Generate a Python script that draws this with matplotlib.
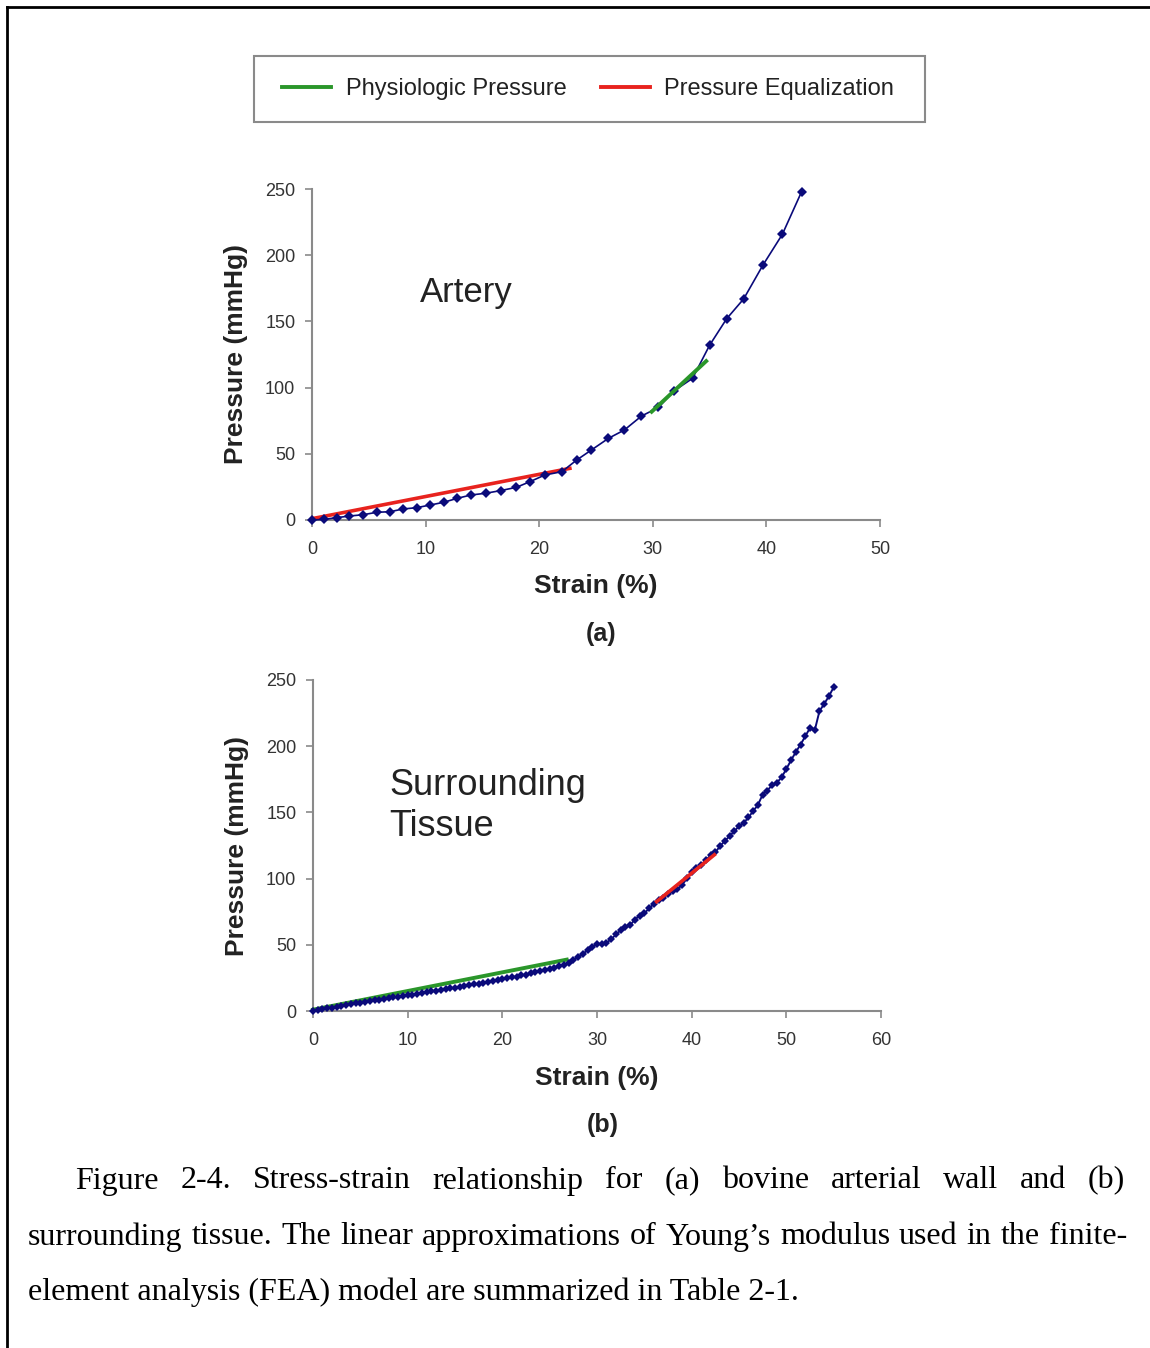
import matplotlib
matplotlib.use("Agg")
import matplotlib.pyplot as plt
from matplotlib.lines import Line2D
from matplotlib.patches import Rectangle

## data
artery_strain = [0, 1.1, 2.2, 3.3, 4.5, 5.7, 6.9, 8.0, 9.2, 10.4, 11.6, 12.8, 14.0, 15.3,
                 16.6, 18.0, 19.2, 20.5, 22.0, 23.3, 24.6, 26.1, 27.5, 29.0, 30.5, 31.9,
                 33.5, 35.0, 36.5, 38.0, 39.7, 41.4, 43.1]
artery_pressure = [0, 0.5, 1.8, 3.0, 4.0, 5.8, 6.3, 8.3, 9.3, 11.3, 13.4, 16.4, 18.9, 20.2,
                   22.2, 24.7, 29.0, 34.0, 36.5, 45.3, 52.9, 61.7, 68.0, 78.5, 85.0, 97.7,
                   107.0, 132.0, 152.0, 167.0, 192.6, 215.7, 248.0]

tissue_strain = [0.0, 0.5, 1.0, 1.5, 2.0, 2.5, 3.0, 3.5, 4.0, 4.5, 5.0, 5.5, 6.0, 6.5, 7.0,
                 7.5, 8.0, 8.5, 9.0, 9.5, 10.0, 10.5, 11.0, 11.5, 12.0, 12.5, 13.0, 13.5,
                 14.0, 14.5, 15.0, 15.5, 16.0, 16.5, 17.0, 17.5, 18.0, 18.5, 19.0, 19.5,
                 20.0, 20.5, 21.0, 21.5, 22.0, 22.5, 23.0, 23.5, 24.0, 24.5, 25.0, 25.5,
                 26.0, 26.5, 27.0, 27.5, 28.0, 28.5, 29.0, 29.5, 30.0, 30.5, 31.0, 31.5,
                 32.0, 32.5, 33.0, 33.5, 34.0, 34.5, 35.0, 35.5, 36.0, 36.5, 37.0, 37.5,
                 38.0, 38.5, 39.0, 39.5, 40.0, 40.5, 41.0, 41.5, 42.0, 42.5, 43.0, 43.5,
                 44.0, 44.5, 45.0, 45.5, 46.0, 46.5, 47.0, 47.5, 48.0, 48.5, 49.0, 49.5,
                 50.0, 50.5, 51.0, 51.5, 52.0, 52.5, 53.0, 53.5, 54.0, 54.5, 55.0]
tissue_pressure = [0, 0.8, 1.5, 2.0, 2.6, 3.0, 3.9, 4.6, 5.2, 5.8, 6.3, 6.9, 7.6, 8.0, 8.6,
                   9.3, 9.8, 10.3, 10.9, 11.6, 12.0, 12.4, 13.1, 13.8, 14.2, 14.9, 15.3, 16.0,
                   16.5, 17.0, 17.6, 18.3, 18.9, 19.4, 20.1, 20.5, 21.3, 22.0, 22.6, 23.4,
                   24.0, 24.6, 25.5, 26.0, 26.9, 27.5, 28.4, 29.1, 30.0, 30.8, 31.8, 32.6,
                   33.7, 34.9, 36.2, 38.3, 41.0, 43.2, 45.8, 48.6, 50.5, 50.9, 51.6, 54.2,
                   57.8, 61.0, 63.2, 64.9, 69.0, 72.1, 73.8, 77.5, 80.9, 83.6, 85.4, 88.6,
                   90.5, 92.1, 95.3, 100.2, 104.8, 107.9, 110.6, 113.9, 117.5, 119.8, 124.6,
                   128.4, 132.0, 135.8, 139.6, 142.0, 146.3, 151.0, 155.7, 163.5, 166.5,
                   170.8, 172.4, 176.5, 182.8, 189.4, 195.6, 201.2, 207.5, 213.8, 212.0,
                   226.5, 232.0, 237.8, 244.5]

# linear approximations (end points)
artery_phys_x, artery_phys_y = [29.9, 34.7], [81.8, 120.0]
artery_equal_x, artery_equal_y = [0, 22.7], [1.0, 39.0]
tissue_phys_x, tissue_phys_y = [0, 26.8], [1.0, 38.8]
tissue_equal_x, tissue_equal_y = [36.3, 42.4], [82.6, 118.0]

caption = ["Figure 2-4. Stress-strain relationship for (a) bovine arterial wall and (b)",
           "surrounding tissue. The linear approximations of Young\u2019s modulus used in the finite-",
           "element analysis (FEA) model are summarized in Table 2-1."]

GREEN = "#2a962a"
RED = "#e8231e"
NAVY = "#0a0a7a"
GRAY = "#8a8a8a"

plt.rcParams['font.family'] = ['Liberation Sans', 'DejaVu Sans']

W, H = 1150, 1348
fig = plt.figure(figsize=(W/100, H/100), dpi=100)

def px_axes(x0, x1, y0, y1):
    return fig.add_axes([x0/W, 1-y1/H, (x1-x0)/W, (y1-y0)/H])

def style(ax, xmax, xstep):
    ax.set_xlim(0, xmax)
    ax.set_ylim(0, 250)
    ax.set_xticks(range(0, xmax+1, xstep))
    ax.set_yticks(range(0, 251, 50))
    for s in ["top", "right"]:
        ax.spines[s].set_visible(False)
    for s in ["left", "bottom"]:
        ax.spines[s].set_color(GRAY)
        ax.spines[s].set_linewidth(1.5)
    ax.tick_params(direction="out", length=5, width=1.2, color=GRAY,
                   labelsize=13, labelcolor="#333333")
    ax.tick_params(axis="x", pad=10)
    ax.tick_params(axis="y", pad=7)
    ax.set_xlabel("Strain (%)", fontsize=19, fontweight="bold", color="#222222", labelpad=12)
    ax.set_ylabel("Pressure (mmHg)", fontsize=19, fontweight="bold", color="#222222", labelpad=12)

## (a) artery
ax1 = px_axes(312, 880, 189, 520)
style(ax1, 50, 10)
ax1.plot(artery_equal_x, artery_equal_y, color=RED, lw=2.6, zorder=3, clip_on=False)
ax1.plot(artery_strain, artery_pressure, color=NAVY, lw=1.2, marker="D", ms=5,
         markeredgewidth=0, zorder=4, clip_on=False)
ax1.plot(artery_phys_x, artery_phys_y, color=GREEN, lw=2.8, zorder=5, clip_on=False)
ax1.text(0.19, 0.686, "Artery", transform=ax1.transAxes, fontsize=25, color="#222222",
         va="center")

## (b) surrounding tissue
ax2 = px_axes(313, 881, 680, 1011)
style(ax2, 60, 10)
ax2.plot(tissue_phys_x, tissue_phys_y, color=GREEN, lw=2.8, zorder=3, clip_on=False)
ax2.plot(tissue_strain, tissue_pressure, color=NAVY, lw=1.4, marker="D", ms=4.2,
         markeredgewidth=0, zorder=4, clip_on=False)
ax2.plot(tissue_equal_x, tissue_equal_y, color=RED, lw=2.6, zorder=5, clip_on=False)
ax2.text(0.135, 0.619, "Surrounding\nTissue", transform=ax2.transAxes, fontsize=26,
         color="#222222", linespacing=1.2, va="center")

fig.text(601/W, 1-634/H, "(a)", ha="center", va="center", fontsize=18, fontweight="bold",
         color="#222222")
fig.text(603/W, 1-1125/H, "(b)", ha="center", va="center", fontsize=18, fontweight="bold",
         color="#222222")

## legend (frame drawn separately)
handles = [Line2D([], [], color=GREEN, lw=2.8), Line2D([], [], color=RED, lw=2.8)]
leg = fig.legend(handles, ["Physiologic Pressure", "Pressure Equalization"], ncol=2,
                 loc="center", bbox_to_anchor=(588/W, 1-89/H), fontsize=17,
                 frameon=False, handlelength=2.1,
                 columnspacing=1.45, handletextpad=0.6)
for t in leg.get_texts():
    t.set_color("#222222")
fig.add_artist(Rectangle((254/W, 1-122/H), 671/W, 66/H, transform=fig.transFigure,
                         fill=False, edgecolor=GRAY, lw=1.5))

## frame lines
fig.add_artist(Line2D([7/W, 1], [1-7/H, 1-7/H], color="black", lw=2, transform=fig.transFigure))
fig.add_artist(Line2D([7/W, 7/W], [0, 1-7/H], color="black", lw=2, transform=fig.transFigure))

## caption, justified lines 1 and 2
cap_font = dict(family="Liberation Serif", fontsize=23, color="black")
fig.canvas.draw()
renderer = fig.canvas.get_renderer()

def justified(line, x0, x1, yc):
    words = line.split(" ")
    widths = []
    for w in words:
        t = fig.text(0, 0, w, **cap_font)
        widths.append(t.get_window_extent(renderer).width)
        t.remove()
    gap = (x1 - x0 - sum(widths)) / (len(words) - 1)
    x = x0
    for w, wd in zip(words, widths):
        fig.text(x/W, 1-yc/H, w, va="center", **cap_font)
        x += wd + gap

justified(caption[0], 75, 1125, 1181)
justified(caption[1], 28, 1127, 1237)
fig.text(28/W, 1-1292/H, caption[2], va="center", **cap_font)

fig.savefig("out.png", dpi=100)
